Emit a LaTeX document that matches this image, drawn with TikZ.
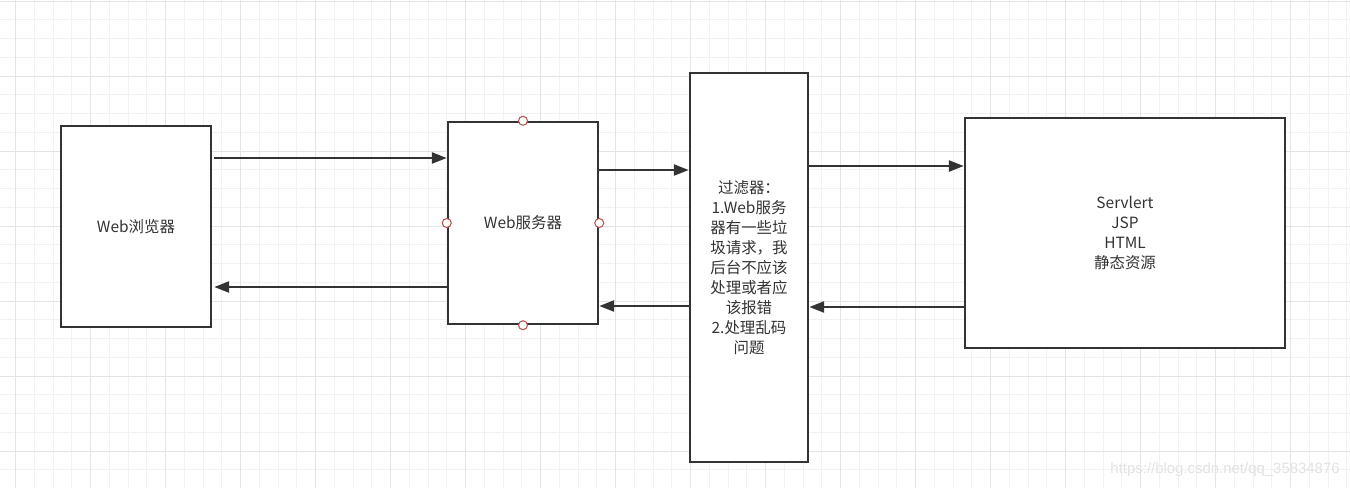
\documentclass[tikz,border=0pt]{standalone}
\usepackage{fontspec}
\setmainfont{Noto Sans CJK SC}
\newfontfamily\markfont{Liberation Sans}
\usepackage{xcolor}
\usepackage{tikz}
\usetikzlibrary{arrows.meta}
\definecolor{inkgray}{HTML}{333333}
\definecolor{minorgrid}{HTML}{F2F2F2}
\definecolor{majorgrid}{HTML}{E4E4E4}
\definecolor{portred}{HTML}{B85450}
\tikzset{
  blockbox/.style={draw=inkgray, line width=0.05cm, fill=white, inner sep=0pt,
    text=inkgray, font=\fontsize{8.8}{11.4}\selectfont, align=center},
  flow/.style={draw=inkgray, line width=0.05cm,
    -{Triangle[length=0.3cm,width=0.22cm]}},
  port/.style={draw=portred, line width=0.6pt, fill=white}
}

\begin{document}
\begin{tikzpicture}[x=0.02cm,y=-0.02cm]
        \useasboundingbox (0,0) rectangle (1350,488);
        \fill [white] (0,0) rectangle (1350,488);
        % grid
        \foreach \k in {0,...,71}
          \draw [minorgrid, line width=0.02cm] (15.7+18.75*\k,0) -- (15.7+18.75*\k,488);
        \foreach \k in {0,...,25}
          \draw [minorgrid, line width=0.02cm] (0,1+18.75*\k) -- (1350,1+18.75*\k);
        \foreach \k in {0,...,17}
          \draw [majorgrid, line width=0.02cm] (15.7+75*\k,0) -- (15.7+75*\k,488);
        \foreach \k in {0,...,6}
          \draw [majorgrid, line width=0.02cm] (0,1+75*\k) -- (1350,1+75*\k);

        % boxes
        \node [blockbox, minimum width=3cm, minimum height=4.02cm] (browser) at (136,226.5) {Web浏览器};
        \node [blockbox, minimum width=3cm, minimum height=4.04cm] (server) at (523,223) {Web服务器};
        \node [blockbox, minimum width=2.36cm, minimum height=7.78cm] (filter) at (749,267.5)
          {过滤器：\\1.Web服务\\器有一些垃\\圾请求，我\\后台不应该\\处理或者应\\该报错\\2.处理乱码\\问题};
        \node [blockbox, minimum width=6.4cm, minimum height=4.6cm] (servlet) at (1125,233)
          {Servlert\\JSP\\HTML\\静态资源};

        \foreach \a in {north,south,east,west}
          \draw [port] (server.\a) circle (0.09cm);

        % arrows
        \draw [flow] ([xshift=0.04cm]browser.east |- 0,158) -- (server.west |- 0,158);
        \draw [flow] (server.west |- 0,287) -- ([xshift=0.04cm]browser.east |- 0,287);
        \draw [flow] (server.east |- 0,170) -- (filter.west |- 0,170);
        \draw [flow] (filter.west |- 0,306) -- (server.east |- 0,306);
        \draw [flow] (filter.east |- 0,166) -- (servlet.west |- 0,166);
        \draw [flow] (servlet.west |- 0,307) -- (filter.east |- 0,307);

        \node [anchor=east, inner sep=0pt, text=black!11, font=\markfont\fontsize{8.5}{10}\selectfont] (mark) at (1340,470) {https://blog.csdn.net/qq\_35834876};
\end{tikzpicture}
\end{document}
